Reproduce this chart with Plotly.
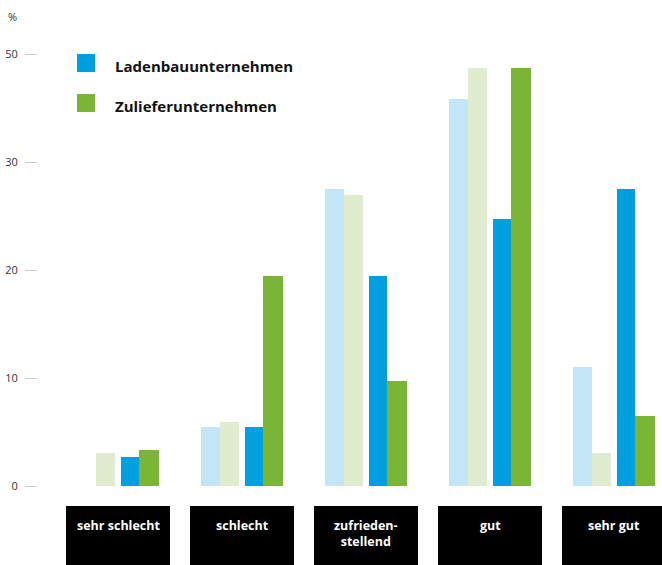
import plotly.graph_objects as go

categories = ["sehr schlecht", "schlecht", "zufrieden-<br>stellend", "gut", "sehr gut"]
laden_prev = [0, 5.5, 27.5, 35.8, 11.0]
zulief_prev = [3.1, 5.9, 26.9, 38.7, 3.1]
laden = [2.7, 5.5, 19.4, 24.7, 27.5]
zulief = [3.3, 19.4, 9.7, 38.7, 6.5]
tick_vals = [0, 10, 20, 30, 40]
tick_text = ["0", "10", "20", "30", "50"]
legend_names = ["Ladenbauunternehmen", "Zulieferunternehmen"]

W, H = 662, 565
L = 38
PITCH = 124.0
C0 = 118.0
Y0 = 486.0
PXU = 10.8

xs = list(range(len(categories)))

def px_x(p):
    return (p - C0) / PITCH

def px_y(p):
    return (Y0 - p) / PXU

def pap_x(p):
    return (p - L) / (W - L)

def pap_y(p):
    return 1 - p / H

LB = "#C3E6F6"
LG = "#DFECCF"
BL = "#009FE0"
GR = "#7AB538"

fig = go.Figure()
specs = [
    (laden_prev, LB, -41, 19),
    (zulief_prev, LG, -22, 19),
    (laden, BL, 3, 18),
    (zulief, GR, 21, 20),
]
for vals, col, off, w in specs:
    fig.add_trace(go.Bar(
        x=xs, y=vals, marker=dict(color=col, line=dict(width=0)),
        offset=off / PITCH, width=w / PITCH, showlegend=False,
        hoverinfo="y",
    ))

shapes = []
annotations = []
for i, c in enumerate(categories):
    shapes.append(dict(type="rect", xref="x", yref="y",
                       x0=i - 52 / PITCH, x1=i + 52 / PITCH,
                       y0=px_y(506), y1=px_y(580),
                       fillcolor="#000000", line=dict(width=0), layer="above"))
    annotations.append(dict(x=i, y=px_y(515), xref="x", yref="y",
                            text="<b>" + c + "</b>", showarrow=False,
                            yanchor="top", xanchor="center",
                            font=dict(family="Open Sans", size=12.5, color="#ffffff")))

legend_cols = [BL, GR]
for k, (name, col) in enumerate(zip(legend_names, legend_cols)):
    top = 54 + k * 40
    shapes.append(dict(type="rect", xref="paper", yref="paper",
                       x0=pap_x(77), x1=pap_x(95), y0=pap_y(top), y1=pap_y(top + 18),
                       fillcolor=col, line=dict(width=0)))
    annotations.append(dict(x=pap_x(113), y=pap_y(top + 12), xref="paper", yref="paper",
                            text="<b>" + name + "</b>", showarrow=False,
                            xanchor="left", yanchor="middle",
                            font=dict(family="Open Sans", size=15, color="#111111")))

annotations.append(dict(x=pap_x(13), y=pap_y(16), xref="paper", yref="paper", text="%",
                        showarrow=False, xanchor="center", yanchor="middle",
                        font=dict(family="Open Sans", size=11, color="#333333")))

fig.update_layout(
    width=W, height=H,
    margin=dict(l=L, r=0, t=0, b=0),
    paper_bgcolor="white", plot_bgcolor="white",
    barmode="overlay",
    bargap=0,
    shapes=shapes,
    annotations=annotations,
    xaxis=dict(visible=False, range=[px_x(L), px_x(W)], fixedrange=True),
    yaxis=dict(range=[px_y(H), px_y(0)], tickvals=tick_vals, ticktext=tick_text,
               showgrid=False, zeroline=False, showline=False,
               ticks="outside", ticklen=12, tickcolor="#cccccc", tickwidth=1,
               ticklabelstandoff=5,
               tickfont=dict(family="Open Sans", size=11, color="#333333"),
               fixedrange=True),
)

fig.write_html("out.html", config={"displayModeBar": False},
               post_script="document.body.style.margin='0';")
